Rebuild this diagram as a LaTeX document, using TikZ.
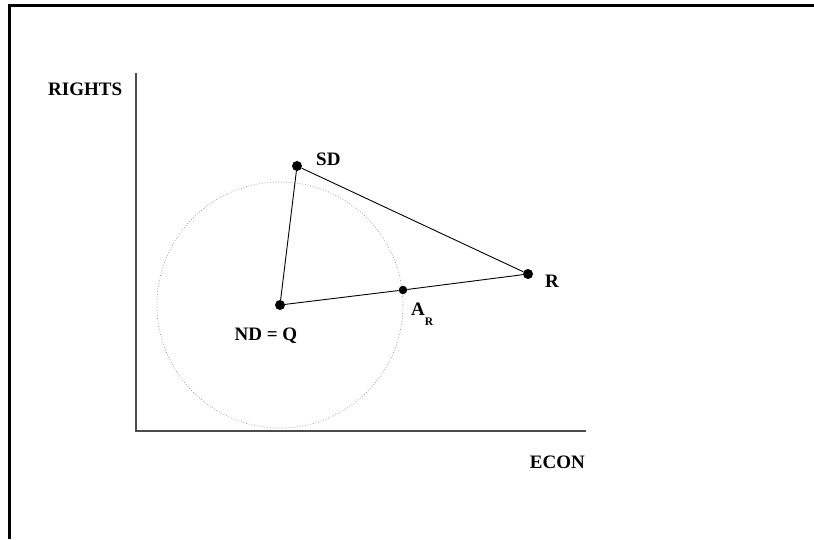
\documentclass[tikz,border=0pt]{standalone}
\usepackage{fontspec}
\setmainfont{Liberation Serif}
\usetikzlibrary{positioning}

\begin{document}
\begin{tikzpicture}[x=1pt, y=-1pt,
  every node/.style={font=\bfseries\fontsize{19}{23}\selectfont, inner sep=0pt},
  dot/.style={circle, fill=black, minimum size=10pt},
  axis/.style={draw=black!70, line width=1.2pt},
  link/.style={line width=0.9pt}]
  \useasboundingbox (0,0) rectangle (814,539);
  % frame
  \draw[line width=2.2pt] (9.5,539) -- (9.5,5.5) -- (814,5.5);
  % axes
  \coordinate (o) at (136,431);
  \coordinate (ytop) at (136,73);
  \coordinate (xend) at (586,431);
  \draw[axis] (ytop) -- (o) -- (xend);
  \node[anchor=base west] (rights) at (48,95) {RIGHTS};
  \node[anchor=base east] (econ) at (585,468) {ECON};
  % circle round ND
  \draw[black!45, dotted, line width=0.7pt] (280,305) circle[radius=123];
  % points
  \node[dot] (nd) at (280,305) {};
  \node[dot] (sd) at (297,166) {};
  \node[dot] (r) at (528,274) {};
  \node[dot, minimum size=8.5pt] (ar) at (403,290) {};
  \draw[link] (nd) -- (sd) -- (r) -- (ar) -- (nd);
  % labels
  \node[anchor=base] (ndlab) at (266,340) {ND = Q};
  \node[anchor=base west] (sdlab) at (316,165) {SD};
  \node[anchor=base west] (rlab) at (545,287) {R};
  \node[anchor=base west] (arlab) at (411,315) {A\raisebox{-10pt}{\fontsize{11.5}{12}\selectfont R}};
\end{tikzpicture}
\end{document}
